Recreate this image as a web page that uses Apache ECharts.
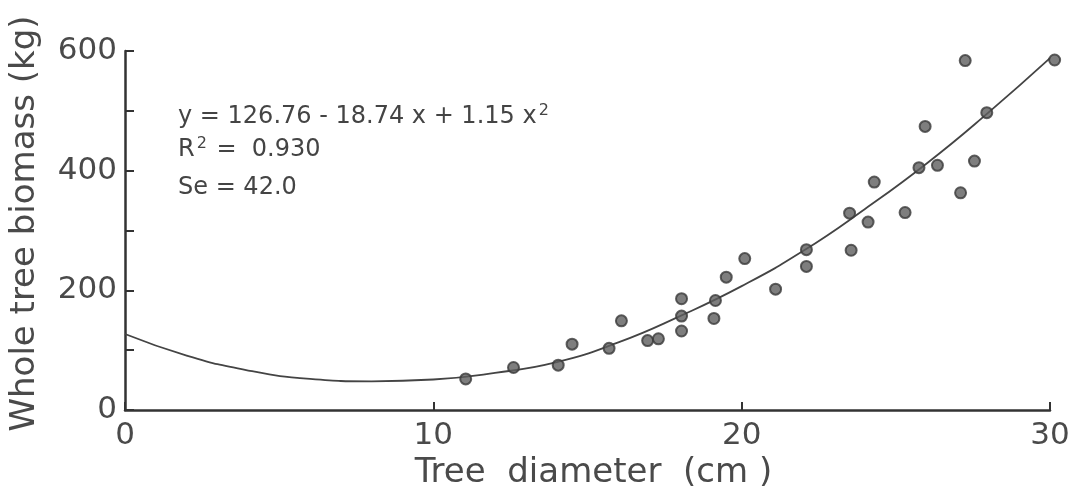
<!DOCTYPE html>
<html>
<head>
<meta charset="utf-8">
<script src="https://cdn.jsdelivr.net/npm/echarts@6/dist/echarts.min.js"></script>
<style>
html,body{margin:0;padding:0;background:#fff;}
#chart{width:1076px;height:499px;}
</style>
</head>
<body>
<div id="chart"></div>
<script>
// Observed trees: diameter (cm) and whole tree biomass (kg)
var diameters = [11.05, 12.6, 14.05, 14.5, 15.7, 16.1, 16.95, 17.3, 18.05, 18.05, 18.05, 19.15, 19.1, 19.5, 20.1, 21.1,
                 22.1, 22.1, 23.5, 23.55, 24.1, 24.3, 25.3, 25.75, 25.95, 26.35, 27.1, 27.25, 27.55, 27.95, 30.15];
var biomass   = [52, 71, 75, 110, 103, 149, 116, 119, 186, 157, 132, 183, 153, 222, 253, 202,
                 268, 240, 329, 267, 314, 381, 330, 405, 474, 409, 363, 584, 416, 497, 585];
// Fitted curve
var curveX = [0, 2, 4, 6, 8, 10, 12, 14, 16, 18, 20, 22, 24, 26, 28, 30];
var curveY = [127, 91, 66, 52, 48, 51, 62, 80, 113, 157, 207, 266, 336, 412, 497, 588];
// Tick labels
var xTicks = [0, 10, 20, 30];
var yTicks = [0, 200, 400, 600];
var equationLines = ['y = 126.76 - 18.74 x + 1.15 x', 'R', 'Se = 42.0'];

var points = diameters.map(function (d, i) { return [d, biomass[i]]; });
var curve = curveX.map(function (d, i) { return [d, curveY[i]]; });

var chart = echarts.init(document.getElementById('chart'));
var font = 'DejaVu Sans';
var txt = '#4a4a4a';
chart.setOption({
  animation: false,
  backgroundColor: '#fff',
  grid: { left: 125, right: 26, top: 51, bottom: 89 },
  xAxis: {
    type: 'value', min: 0, max: 30, interval: 10,
    name: 'Tree  diameter  (cm )', nameLocation: 'middle', nameGap: 46,
    nameTextStyle: { fontFamily: font, fontSize: 34, color: txt, padding: [0, 0, 0, 12] },
    axisLine: { lineStyle: { color: '#333', width: 2.5 } },
    axisTick: { inside: true, length: 8, lineStyle: { color: '#333', width: 2 } },
    axisLabel: {
      fontFamily: font, fontSize: 31, color: txt, margin: 10,
      formatter: function (v) { return xTicks.indexOf(v) >= 0 ? String(v) : ''; }
    },
    splitLine: { show: false }
  },
  yAxis: {
    type: 'value', min: 0, max: 600, interval: 100,
    name: 'Whole tree biomass (kg)', nameLocation: 'middle', nameGap: 83,
    nameTextStyle: { fontFamily: font, fontSize: 34, color: txt, padding: [0, 0, 0, 14] },
    axisLine: { lineStyle: { color: '#333', width: 2.5 } },
    axisTick: { inside: true, length: 9, lineStyle: { color: '#333', width: 2 } },
    axisLabel: {
      fontFamily: font, fontSize: 31, color: txt, margin: 8,
      formatter: function (v) { return yTicks.indexOf(v) >= 0 ? String(v) : ''; }
    },
    splitLine: { show: false }
  },
  graphic: [
    { type: 'text', left: 178, top: 103, style: {
        text: '{a|' + equationLines[0] + '}{s|2}',
        rich: { a: { fontFamily: font, fontSize: 24, fill: '#444' },
                s: { fontFamily: font, fontSize: 16, fill: '#444', padding: [0, 0, 12, 2] } } } },
    { type: 'text', left: 178, top: 136, style: {
        text: '{a|' + equationLines[1] + '}{s|2}{a| =  0.930}',
        rich: { a: { fontFamily: font, fontSize: 24, fill: '#444' },
                s: { fontFamily: font, fontSize: 16, fill: '#444', padding: [0, 2, 12, 2] } } } },
    { type: 'text', left: 178, top: 176, style: {
        text: equationLines[2], fontFamily: font, fontSize: 24, fill: '#444' } }
  ],
  series: [
    { type: 'line', data: curve, smooth: 0.5, showSymbol: false, clip: false,
      lineStyle: { color: '#444', width: 1.8 }, z: 2 },
    { type: 'scatter', data: points, symbolSize: 11, clip: false,
      itemStyle: { color: '#5e5e5e', borderColor: '#3a3a3a', borderWidth: 2 }, z: 3 }
  ]
});
</script>
</body>
</html>
